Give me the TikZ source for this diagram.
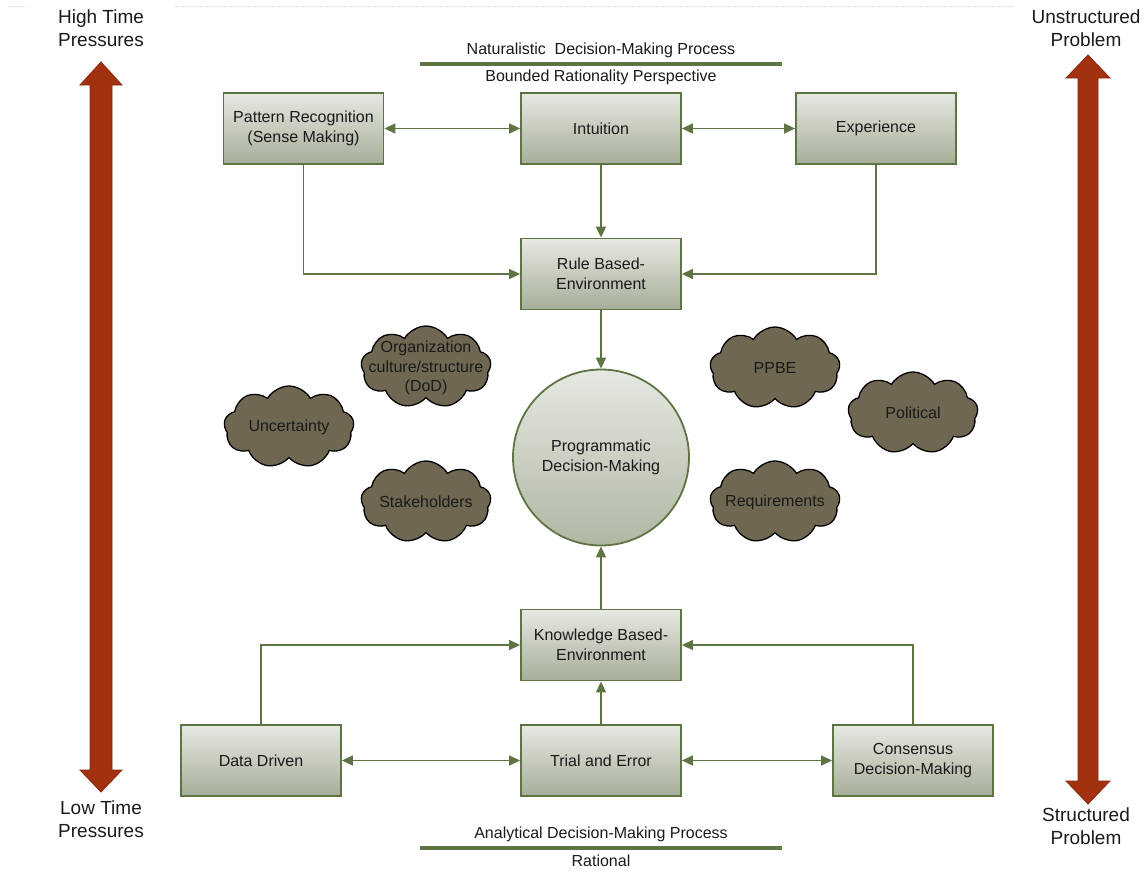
\documentclass[tikz,border=0pt]{standalone}
\usepackage{fontspec}
\setmainfont{Liberation Sans}
\usetikzlibrary{arrows.meta,shapes.symbols,shapes.geometric}

\definecolor{olive}{HTML}{5F7444}
\definecolor{boxtop}{HTML}{E6E8E2}
\definecolor{boxbot}{HTML}{A6AF98}
\definecolor{cloudc}{HTML}{6F6751}
\definecolor{rust}{HTML}{A2310F}
\definecolor{rustdark}{HTML}{8A2810}
\definecolor{txt}{HTML}{1A1A1A}

\tikzset{
  procbox/.style={rectangle, draw=olive, line width=1.8pt,
    top color=boxtop, bottom color=boxbot,
    minimum width=160pt, minimum height=71pt, align=center,
    font=\fontsize{16}{20}\selectfont, text=txt},
  hub/.style={circle, draw=olive, line width=1.8pt,
    top color=boxtop, bottom color=boxbot!85!boxtop,
    minimum size=176pt, align=center,
    font=\fontsize{16}{20}\selectfont, text=txt},
  puff/.style={cloud, cloud puffs=9, cloud puff arc=120, cloud ignores aspect,
    fill=cloudc, draw=black, line width=1.3pt,
    minimum width=130pt, minimum height=82pt, inner sep=0pt},
  pufftext/.style={align=center, font=\fontsize{16}{19.5}\selectfont, text=txt},
  conn/.style={draw=olive, line width=1.5pt,
    -{Triangle[length=11pt,width=10pt]}},
  biconn/.style={draw=olive, line width=1.5pt,
    {Triangle[length=11pt,width=10pt]}-{Triangle[length=11pt,width=10pt]}},
  heading/.style={font=\fontsize{16}{18.5}\selectfont, text=txt},
  corner/.style={align=center, font=\fontsize{19}{23}\selectfont, text=txt},
  bar/.style={draw=olive, line width=4pt},
  bigarrow/.style={fill=rust, draw=rustdark, line width=0.8pt, line join=miter}
}

\begin{document}
\begin{tikzpicture}[x=1pt, y=-1pt]
\useasboundingbox (0,0) rectangle (1146,871);

% faint dashed rule along the top edge
\draw[gray!25, line width=0.8pt, dash pattern=on 4pt off 2pt] (8,6) -- (28,6);
\draw[gray!25, line width=0.8pt, dash pattern=on 4pt off 2pt] (175,6) -- (1015,6);

% side labels
\node[corner] (hi)  at (101,28)  {High Time\\Pressures};
\node[corner] (lo)  at (101,819) {Low Time\\Pressures};
\node[corner] (uns) at (1086,28) {Unstructured\\Problem};
\node[corner] (str) at (1086,826) {Structured\\Problem};

% vertical double arrows
\draw[bigarrow] (101,62) -- (122,85) -- (112,85) -- (112,770) -- (122,770)
  -- (101,792) -- (80,770) -- (90,770) -- (90,85) -- (80,85) -- cycle;
\draw[bigarrow] (1088,55) -- (1110,78) -- (1098,78) -- (1098,781) -- (1110,781)
  -- (1088,804) -- (1066,781) -- (1078,781) -- (1078,78) -- (1066,78) -- cycle;

% process headings
\node[heading] (nat) at (601,50) {Naturalistic\ \ Decision-Making Process};
\draw[bar] (420,64) -- (782,64);
\node[heading] (bnd) at (601,77) {Bounded Rationality Perspective};

\node[heading] (ana) at (601,834) {Analytical Decision-Making Process};
\draw[bar] (420,848) -- (782,848);
\node[heading] (rat) at (601,861) {Rational};

% upper process boxes
\node[procbox] (pr)   at (303.5,128.5) {Pattern Recognition\\(Sense Making)};
\node[procbox] (int)  at (601,128.5)   {Intuition};
\node[procbox] (exp)  at (876,128.5)   {Experience};
\node[procbox] (rule) at (601,274)     {Rule Based-\\Environment};

% central hub
\node[hub] (pdm) at (601,457.5) {Programmatic\\Decision-Making};

% lower process boxes
\node[procbox] (kb)   at (601,645)   {Knowledge Based-\\Environment};
\node[procbox] (dd)   at (261,760.5) {Data Driven};
\node[procbox] (te)   at (601,760.5) {Trial and Error};
\node[procbox] (cons) at (913,760.5) {Consensus\\Decision-Making};

% influencing factors
\node[puff] (org) at (426,367) {};
\node[pufftext] at (426,368) {Organization\\culture/structure\\(DoD)};
\node[puff] (unc) at (289,427) {};
\node[pufftext] at (unc) {Uncertainty};
\node[puff] (stk) at (426,502) {};
\node[pufftext] at (stk) {Stakeholders};
\node[puff] (ppbe) at (775,368) {};
\node[pufftext] at (ppbe) {PPBE};
\node[puff] (pol) at (913,413) {};
\node[pufftext] at (pol) {Political};
\node[puff] (req) at (775,502) {};
\node[pufftext] at (req) {Requirements};

% upper connectors
\draw[biconn] (pr) -- (int);
\draw[biconn] (int) -- (exp);
\draw[conn] (int) -- (rule);
\draw[conn] (pr.south) |- (rule.west);
\draw[conn] (exp.south) |- (rule.east);
\draw[conn] (rule) -- (pdm);

% lower connectors
\draw[conn] (kb) -- (pdm);
\draw[conn] (te) -- (kb);
\draw[conn] (dd.north) |- (kb.west);
\draw[conn] (cons.north) |- (kb.east);
\draw[biconn] (dd) -- (te);
\draw[biconn] (te) -- (cons);
\end{tikzpicture}
\end{document}
